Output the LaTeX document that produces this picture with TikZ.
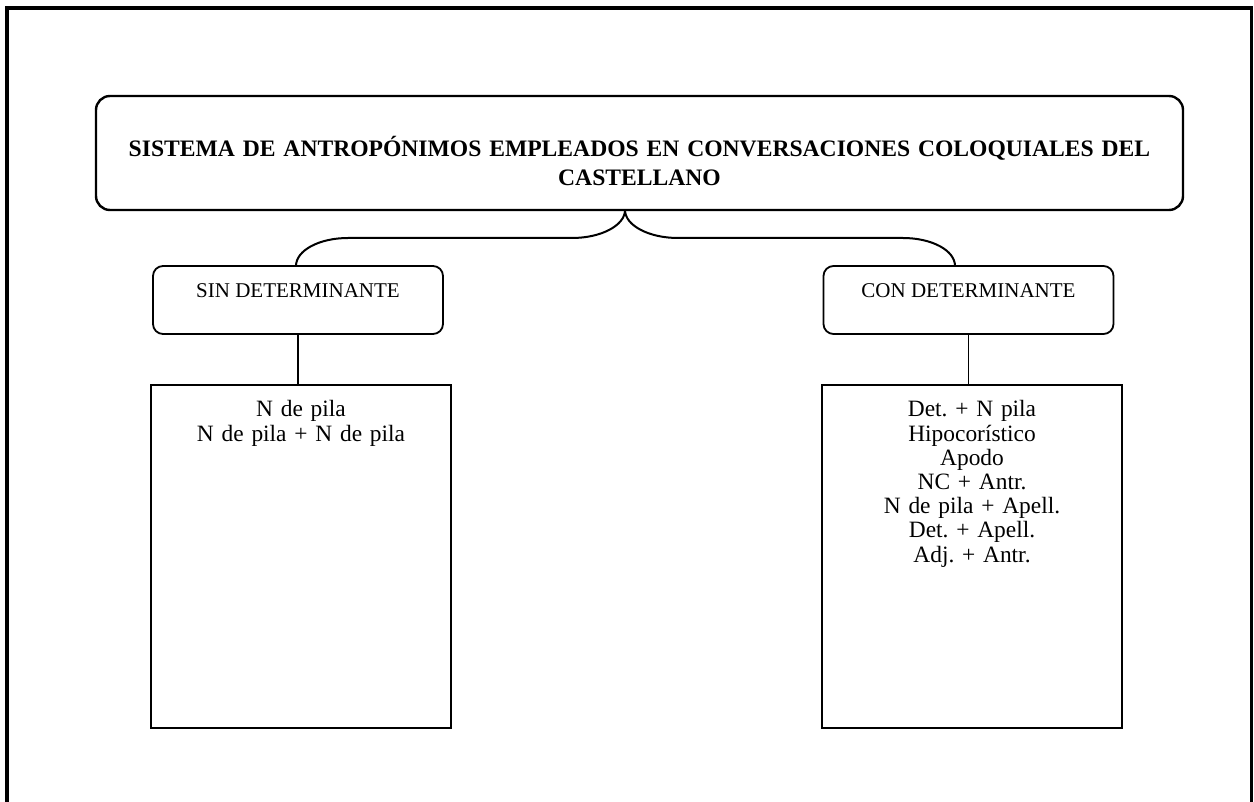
\documentclass[tikz,border=0pt]{standalone}
\usepackage{fontspec}
\setmainfont{Liberation Serif}
\frenchspacing
\begin{document}
\begin{tikzpicture}[x=1pt,y=-1pt,
  frame/.style={line width=3.2pt},
  titlebox/.style={draw, line width=2.4pt, rounded corners=14pt,
    minimum width=1087pt, minimum height=114pt, inner sep=0pt,
    text width=1060pt, align=center,
    font=\fontsize{23.6}{29}\selectfont\bfseries,
    text height=20pt, text depth=12pt},
  groupbox/.style={draw, line width=1.8pt, rounded corners=10pt,
    minimum width=290pt, minimum height=68pt, inner sep=0pt,
    font=\fontsize{21}{25}\selectfont,
    text height=15pt, text depth=19pt},
  listbox/.style={draw, line width=1.7pt, minimum width=300pt,
    minimum height=343pt, inner sep=0pt, text width=270pt, align=center,
    font=\fontsize{23.4}{24.2}\selectfont,
    text height=17pt, text depth=296pt},
  link/.style={line width=1.6pt},
  brace/.style={line width=2pt}
]
\useasboundingbox (0,0) rectangle (1254,802);

% page frame, open at the bottom
\draw[frame] (7,802) -- (7,8) -- (1251.5,8) -- (1251.5,802);

% title
\node[titlebox] (title) at (639.5,153)
  {SISTEMA DE ANTROPÓNIMOS EMPLEADOS EN CONVERSACIONES COLOQUIALES DEL\\CASTELLANO};

% the two groups
\node[groupbox] (sin) at (298,300) {SIN DETERMINANTE};
\node[groupbox] (con) at (968.5,300) {CON DETERMINANTE};

% lists of forms
\node[listbox] (lsin) at (301,556.5) {N de pila\\N de pila + N de pila};
\node[listbox] (lcon) at (972,556.5)
  {Det. + N pila\\Hipocorístico\\Apodo\\NC + Antr.\\N de pila + Apell.\\Det. + Apell.\\Adj. + Antr.};

% brace from the title to both groups
\coordinate (bracetip) at (625,210);
\coordinate (bl) at (296,266);
\coordinate (br) at (955,266);
\draw[brace] (bl) .. controls (296,250.5) and (319,238) .. (348,238)
  -- (572,238) .. controls (601,238) and (625,225.5) .. (bracetip)
  .. controls (625,225.5) and (649,238) .. (678,238)
  -- (903,238) .. controls (932,238) and (955,250.5) .. (br);

% groups to their lists
\draw[link] (sin.south) -- (sin.south |- lsin.north);
\draw[link] (con.south) -- (con.south |- lcon.north);
\end{tikzpicture}
\end{document}
